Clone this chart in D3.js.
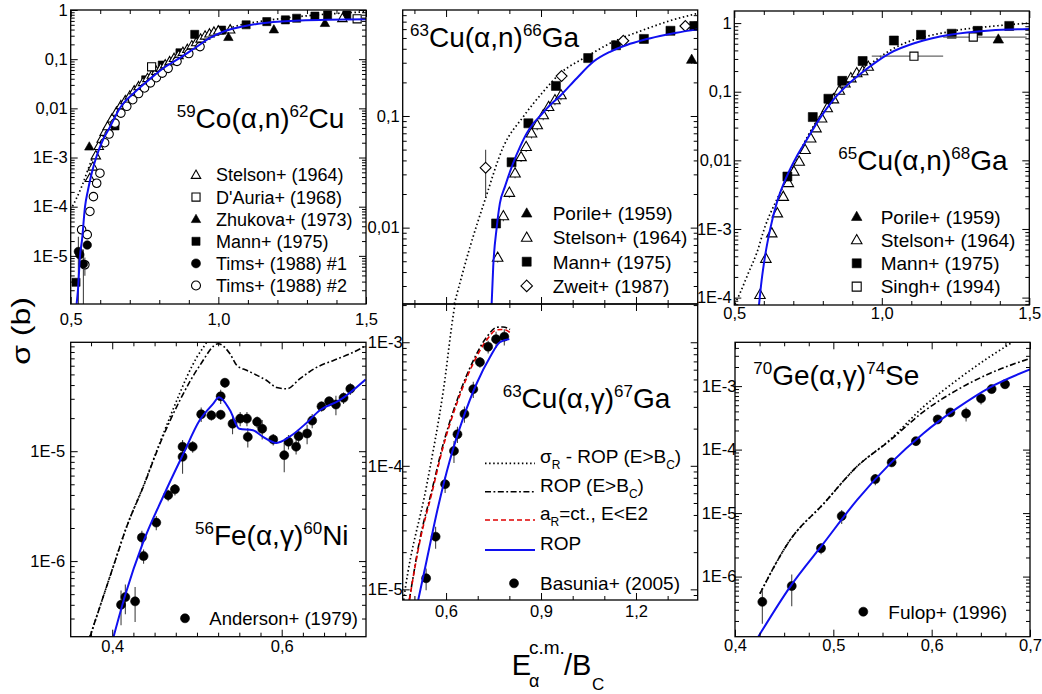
<!DOCTYPE html>
<html>
<head>
<meta charset="utf-8">
<script src="https://cdn.jsdelivr.net/npm/d3@7"></script>
<style>
  body { margin: 0; background: #fff; }
  svg { display: block; }
  text { font-family: "Liberation Sans", Arial, Helvetica, sans-serif; fill: #000; }
</style>
</head>
<body>
<svg id="chart" width="1042" height="694"></svg>
<script>
// ---------------- data: [E/Bc, sigma (b), relative error] ----------------

// 59Co(a,n)62Cu
const coRop = [[0.520,1.06e-6],[0.5247,2.04e-6],[0.5315,1.0e-5],[0.5383,2.11e-5],[0.5484,9.9e-5],[0.5586,2.19e-4],[0.5721,5.09e-4],[0.5857,9.8e-4],[0.606,2.07e-3],[0.6331,4.19e-3],[0.6669,1.02e-2],[0.7177,2.15e-2],[0.7685,3.96e-2],[0.8193,6.94e-2],[0.8701,0.106],[0.9209,0.169],[0.9717,0.27],[1.0225,0.374],[1.0902,0.473],[1.1637,0.552],[1.2766,0.612],[1.5,0.647]];
const coSigmaR = [[0.5,8.6e-5],[0.5372,2.56e-4],[0.5711,8.9e-4],[0.6219,3.12e-3],[0.6669,1.08e-2],[0.7685,4.56e-2],[0.8701,0.128],[0.9379,0.224],[1.0496,0.451],[1.1647,0.612],[1.2765,0.738],[1.5,0.923]];
const coStelson = [[0.565,3.8e-4],[0.575,6.5e-4],[0.585,1.1e-3],[0.595,1.7e-3],[0.605,2.4e-3],[0.615,3.3e-3],[0.625,4.3e-3],[0.64,6.2e-3],[0.655,8.5e-3],[0.67,1.15e-2],[0.685,1.45e-2],[0.70,1.8e-2],[0.715,2.3e-2],[0.73,2.8e-2],[0.745,3.4e-2],[0.76,4.1e-2],[0.775,4.8e-2],[0.79,5.7e-2],[0.805,6.6e-2],[0.82,7.8e-2],[0.835,9e-2],[0.85,0.105],[0.865,0.12],[0.88,0.14],[0.895,0.16],[0.91,0.19],[0.925,0.22],[0.94,0.26],[0.955,0.30],[0.97,0.33],[0.985,0.36],[1.0,0.38],[1.04,0.40],[1.42,0.68]];
const coDAuria = [[0.774,0.070],[1.47,0.66]];
const coZhukova = [[0.563,1.66e-3],[1.034,0.28,0.1],[1.188,0.40,0.1],[1.361,0.54,0.1]];
const coMann = [[0.518,2.9e-6],[0.650,4.4e-3],[0.754,0.038],[0.810,0.076],[0.870,0.135],[0.920,0.32],[1.011,0.39],[1.094,0.50],[1.164,0.58],[1.227,0.63],[1.265,0.68],[1.327,0.75],[1.370,0.79],[1.435,0.79]];
const coTims1 = [[0.526,1.23e-5,0.99],[0.531,1.05e-5],[0.543,6.8e-6,0.99],[0.556,1.66e-5]];
const coTims2 = [[0.537,3.4e-5],[0.548,6.6e-6,0.4],[0.556,2.7e-5],[0.565,8e-5],[0.577,1.6e-4],[0.588,3e-4],[0.599,4.8e-4],[0.615,2.0e-3],[0.63,3.0e-3],[0.65,5.0e-3],[0.67,8.0e-3],[0.69,1.1e-2],[0.71,1.5e-2],[0.73,2.0e-2],[0.75,2.6e-2],[0.77,3.3e-2],[0.79,4.2e-2],[0.81,5.2e-2],[0.83,6.5e-2],[0.86,0.09],[0.90,0.13],[0.938,0.18]];

// 63Cu(a,n)66Ga
const cuNRop = [[0.744,2.07e-3],[0.749,4.48e-3],[0.760,1.0e-2],[0.770,1.65e-2],[0.786,2.33e-2],[0.812,3.78e-2],[0.834,5.31e-2],[0.855,7.0e-2],[0.876,8.6e-2],[0.897,0.100],[0.928,0.125],[0.960,0.151],[1.013,0.218],[1.065,0.306],[1.118,0.376],[1.171,0.433],[1.223,0.479],[1.276,0.52],[1.328,0.557],[1.395,0.597]];
const cuNSigmaR = [[0.626,2.07e-3],[0.676,6.77e-3],[0.723,1.77e-2],[0.781,5.3e-2],[0.844,0.0986],[0.907,0.165],[0.960,0.24],[1.044,0.34],[1.118,0.448],[1.223,0.589],[1.307,0.713],[1.395,0.83]];
const cuNPorile = [[1.376,0.32,0.08]];
const cuNStelson = [[0.763,5.4e-3,0.1],[0.781,1.27e-2,0.1],[0.800,2.06e-2,0.1],[0.818,3.07e-2,0.1],[0.837,4.3e-2,0.1],[0.853,5.3e-2,0.1],[0.870,7.0e-2,0.1],[0.888,8.3e-2,0.1],[0.907,0.102,0.1],[0.924,0.121,0.1],[0.944,0.139,0.1],[0.963,0.154,0.1]];
const cuNMann = [[0.758,1.09e-2],[0.807,3.85e-2],[0.860,0.086],[0.947,0.186],[1.049,0.33],[1.137,0.43],[1.225,0.49],[1.309,0.58],[1.384,0.64]];
const cuNZweit = [[0.725,3.44e-2,0.45],[0.965,0.228],[1.160,0.472],[1.356,0.64]];

// 65Cu(a,n)68Ga
const cu65Rop = [[0.5837,7.8e-5],[0.5928,1.81e-4],[0.604,3.96e-4],[0.621,9.7e-4],[0.6437,2.38e-3],[0.6776,5.8e-3],[0.7115,1.14e-2],[0.7454,1.99e-2],[0.7905,4.12e-2],[0.8356,7.6e-2],[0.8864,0.129],[0.9373,0.197],[0.9827,0.275],[1.0278,0.365],[1.118,0.521],[1.2312,0.675],[1.3668,0.78],[1.5,0.818]];
const cu65SigmaR = [[0.5024,8.1e-5],[0.5193,1.16e-4],[0.5475,2.27e-4],[0.5759,4.44e-4],[0.6041,1.08e-3],[0.6437,2.66e-3],[0.6888,6.5e-3],[0.7454,2.11e-2],[0.8356,8.07e-2],[0.9373,0.209],[1.0278,0.399],[1.2312,0.755],[1.3668,0.892],[1.5,1.0]];
const cu65Porile = [[1.395,0.58]];
const cu65Stelson = [[0.587,1.1e-4],[0.607,3.7e-4],[0.627,8.7e-4],[0.646,1.7e-3],[0.666,2.96e-3],[0.683,4.7e-3],[0.702,6.9e-3],[0.720,9.6e-3],[0.740,1.43e-2],[0.759,2.1e-2],[0.777,2.95e-2],[0.796,4.1e-2],[0.815,5.8e-2],[0.836,7.8e-2],[0.856,0.104],[0.875,0.133],[0.895,0.158],[0.915,0.187],[0.935,0.20],[0.954,0.233]];
const cu65Mann = [[0.680,5.8e-3],[0.766,4.27e-2],[0.819,7.9e-2],[0.866,0.144],[0.935,0.28],[1.041,0.557],[1.133,0.675],[1.237,0.70],[1.325,0.77],[1.432,0.91]];
// [E, sigma, err, E low, E high]
const cu65Singh = [[1.109,0.33,0,0.966,1.208],[1.310,0.625,0,1.208,1.491]];

// 56Fe(a,g)60Ni
const feRop = [[0.4016,2.05e-7],[0.416,5.1e-7],[0.436,1.45e-6],[0.460,3.85e-6],[0.484,9.5e-6],[0.503,1.9e-5],[0.519,2.7e-5],[0.526,3.1e-5],[0.539,2.36e-5],[0.550,1.6e-5],[0.566,1.55e-5],[0.578,1.35e-5],[0.594,1.19e-5],[0.609,1.35e-5],[0.629,1.8e-5],[0.645,2.36e-5],[0.668,2.9e-5],[0.699,4.5e-5]];
const feRopAbove = [[0.3737,2.05e-7],[0.3855,3.85e-7],[0.4012,8.9e-7],[0.417,2.05e-6],[0.4366,4.73e-6],[0.4563,1.17e-5],[0.4799,2.91e-5],[0.5035,6.05e-5],[0.5251,9.5e-5],[0.539,7.7e-5],[0.547,6.05e-5],[0.5587,5.45e-5],[0.571,4.9e-5],[0.5823,4.4e-5],[0.594,3.8e-5],[0.606,3.7e-5],[0.622,4.6e-5],[0.6413,5.8e-5],[0.661,6.7e-5],[0.6806,7.7e-5],[0.699,9.1e-5]];
const feSigmaR = [[0.3737,2.05e-7],[0.3855,3.85e-7],[0.4012,8.9e-7],[0.417,2.05e-6],[0.4366,4.8e-6],[0.4563,1.2e-5],[0.4799,3.4e-5],[0.4878,4.7e-5],[0.50,7.2e-5],[0.5114,9.8e-5],[0.52,1.3e-4]];
const feAnderson = [[0.4104,4.0e-7,0.35],[0.4155,4.7e-7,0.3],[0.427,4.3e-7,0.35],[0.435,1.64e-6,0.15],[0.437,1.11e-6,0.15],[0.452,2.24e-6,0.15],[0.466,3.98e-6,0.12],[0.474,4.5e-6,0.12],[0.483,8.9e-6,0.3],[0.483,1.1e-5,0.15],[0.495,1.1e-5,0.12],[0.505,2.17e-5,0.15],[0.517,2.12e-5,0.1],[0.528,3.16e-5,0.15],[0.528,2.15e-5,0.1],[0.533,4.2e-5,0.1],[0.542,1.78e-5,0.2],[0.551,1.98e-5,0.15],[0.559,1.98e-5,0.15],[0.560,1.35e-5,0.2],[0.571,1.85e-5,0.12],[0.577,1.6e-5,0.2],[0.590,1.28e-5,0.12],[0.603,9.2e-6,0.3],[0.608,1.22e-5,0.15],[0.617,1.1e-5,0.15],[0.620,1.37e-5,0.15],[0.630,1.45e-5,0.2],[0.636,1.9e-5,0.15],[0.647,2.56e-5,0.1],[0.656,2.85e-5,0.1],[0.664,2.66e-5,0.2],[0.673,3.06e-5,0.12],[0.681,3.7e-5,0.12]];

// 63Cu(a,g)67Ga
const cuGRop = [[0.512,8.2e-6],[0.539,1.73e-5],[0.575,4.67e-5],[0.612,1.11e-4],[0.654,2.43e-4],[0.697,4.66e-4],[0.739,7.6e-4],[0.770,1.0e-3],[0.800,1.06e-3]];
const cuGConstA = [[0.484,8.2e-6],[0.518,2.5e-5],[0.555,6.0e-5],[0.591,1.43e-4],[0.634,3.2e-4],[0.686,6.76e-4],[0.728,1.04e-3],[0.760,1.26e-3],[0.780,1.27e-3],[0.802,1.2e-3]];
const cuGRopAbove = [[0.484,8.2e-6],[0.518,2.6e-5],[0.555,6.3e-5],[0.591,1.5e-4],[0.634,3.35e-4],[0.686,7.1e-4],[0.728,1.1e-3],[0.760,1.32e-3],[0.780,1.33e-3],[0.802,1.27e-3]];
const cuGSigmaR = [[0.466,8.2e-6],[0.4706,9.9e-6],[0.539,7.0e-5],[0.591,4.0e-4],[0.6285,2.04e-3],[0.64,2.8e-3]];
const cuGBasunia = [[0.537,1.23e-5,0.2],[0.567,2.67e-5,0.2],[0.597,7.1e-5,0.15],[0.625,1.32e-4,0.2],[0.636,1.8e-4,0.15],[0.658,2.63e-4,0.15],[0.686,4.17e-4,0.15],[0.707,6.9e-4,0.1],[0.733,9.2e-4,0.12],[0.758,1.06e-3,0.15],[0.784,1.11e-3,0.15]];

// 70Ge(a,g)74Se
const geRop = [[0.4237,1.13e-7],[0.456,6.9e-7],[0.490,3.33e-6],[0.524,1.6e-5],[0.558,6.07e-5],[0.5915,1.8e-4],[0.6255,4.46e-4],[0.659,9.5e-4],[0.70,1.83e-3]];
const geRopAbove = [[0.4254,5.4e-7],[0.456,3.76e-6],[0.490,1.4e-5],[0.524,5.4e-5],[0.558,1.41e-4],[0.5915,3.94e-4],[0.6255,8.65e-4],[0.659,1.58e-3],[0.70,2.73e-3]];
const geSigmaR = [[0.4254,5.4e-7],[0.456,3.76e-6],[0.490,1.4e-5],[0.524,5.4e-5],[0.558,1.45e-4],[0.5915,4.7e-4],[0.6255,1.24e-3],[0.659,2.9e-3],[0.68,4.7e-3],[0.69,6e-3]];
const geFulop = [[0.4278,4.0e-7,0.55],[0.4577,7.1e-7,0.52],[0.4875,2.8e-6,0.2],[0.5085,8.97e-6,0.25],[0.5427,3.43e-5,0.2],[0.5593,6.3e-5,0.15],[0.584,1.36e-4,0.15],[0.6061,2.99e-4,0.12],[0.619,3.85e-4,0.12],[0.635,3.7e-4,0.25],[0.6502,6.4e-4,0.2],[0.661,8.97e-4,0.15],[0.6746,1.07e-3,0.15]];

// reaction labels: [text, superscript?]
const titleCo = [["59",true],["Co(α,n)",false],["62",true],["Cu",false]];
const titleCuN = [["63",true],["Cu(α,n)",false],["66",true],["Ga",false]];
const titleCu65 = [["65",true],["Cu(α,n)",false],["68",true],["Ga",false]];
const titleFe = [["56",true],["Fe(α,γ)",false],["60",true],["Ni",false]];
const titleCuG = [["63",true],["Cu(α,γ)",false],["67",true],["Ga",false]];
const titleGe = [["70",true],["Ge(α,γ)",false],["74",true],["Se",false]];

// ---------------- drawing ----------------
const FONT = '"Liberation Sans", Arial, Helvetica, sans-serif';
const svg = d3.select('#chart');

const BLUE = '#1010f0';
const lineStyles = {
  rop:    {stroke: BLUE, width: 2, dash: null},
  sigmaR: {stroke: '#000', width: 1.7, dash: '1.5,2.6'},
  above:  {stroke: '#000', width: 1.6, dash: '6,2.5,1.8,2.5'},
  constA: {stroke: '#e00000', width: 1.6, dash: '5,3'}
};

const fmtY = v => {
  const e = Math.round(Math.log10(v));
  return e >= -2 ? v.toFixed(-e).replace('.', ',') : '1E' + e;
};
const fmtX = v => v.toFixed(1).replace('.', ',');

function makePanel(cfg) {
  const x = d3.scaleLinear().domain(cfg.xDomain).range([cfg.left, cfg.right]);
  const y = d3.scaleLog().domain(cfg.yDomain).range([cfg.bottom, cfg.top]);
  const g = svg.append('g');
  const clipId = 'clip-' + cfg.id;
  svg.append('clipPath').attr('id', clipId).append('rect')
    .attr('x', cfg.left).attr('y', cfg.top)
    .attr('width', cfg.right - cfg.left).attr('height', cfg.bottom - cfg.top);
  const plot = g.append('g').attr('clip-path', `url(#${clipId})`);

  // log ticks: decades are major, 2..9 minor
  const [lo, hi] = cfg.yDomain;
  const yMajor = [], yMinor = [];
  for (let e = Math.floor(Math.log10(lo)); e <= Math.ceil(Math.log10(hi)); e++) {
    for (let k = 1; k < 10; k++) {
      const v = k * Math.pow(10, e);
      if (v >= lo * 0.999 && v <= hi * 1.001) (k === 1 ? yMajor : yMinor).push(v);
    }
  }
  const [xlo, xhi] = cfg.xDomain;
  const xMinor = [];
  for (let v = Math.ceil(xlo / cfg.xStep - 1e-6) * cfg.xStep; v <= xhi + 1e-6; v += cfg.xStep) {
    const r = Math.round(v * 1000) / 1000;
    if (!cfg.xMajor.some(m => Math.abs(m - r) < 1e-6)) xMinor.push(r);
  }

  const axes = g.append('g');
  const put = (axis, tx, ty, labels) => {
    const a = axes.append('g').attr('transform', `translate(${tx},${ty})`).call(axis);
    a.select('.domain').remove();
    a.attr('font-family', FONT).attr('font-size', 16.5);
    a.selectAll('line').attr('stroke-width', 1);
    if (!labels) a.selectAll('text').remove();
    return a;
  };
  put(d3.axisLeft(y).tickValues(yMajor).tickSize(-7).tickPadding(cfg.yPad).tickFormat(fmtY), cfg.left, 0, true);
  put(d3.axisLeft(y).tickValues(yMinor).tickSize(-4), cfg.left, 0, false);
  put(d3.axisRight(y).tickValues(yMajor).tickSize(-7), cfg.right, 0, false);
  put(d3.axisRight(y).tickValues(yMinor).tickSize(-4), cfg.right, 0, false);
  put(d3.axisBottom(x).tickValues(cfg.xMajor).tickSize(-7).tickPadding(cfg.xPad).tickFormat(fmtX), 0, cfg.bottom, cfg.xLabels);
  put(d3.axisBottom(x).tickValues(xMinor).tickSize(-4), 0, cfg.bottom, false);
  put(d3.axisTop(x).tickValues(cfg.xMajor).tickSize(-7), 0, cfg.top, false);
  put(d3.axisTop(x).tickValues(xMinor).tickSize(-4), 0, cfg.top, false);

  g.append('rect').attr('x', cfg.left).attr('y', cfg.top)
    .attr('width', cfg.right - cfg.left).attr('height', cfg.bottom - cfg.top)
    .attr('fill', 'none').attr('stroke', '#000').attr('stroke-width', 1.3);

  return {cfg, x, y, g, plot};
}

function drawCurve(p, data, style) {
  const s = lineStyles[style];
  p.plot.append('path').datum(data)
    .attr('d', d3.line().x(d => p.x(d[0])).y(d => p.y(d[1])).curve(d3.curveMonotoneX))
    .attr('fill', 'none').attr('stroke', s.stroke).attr('stroke-width', s.width)
    .attr('stroke-dasharray', s.dash);
}

function markerPath(shape, s) {
  const h = s / 2;
  switch (shape) {
    case 'tri': return `M0,${-h * 1.1}L${h * 1.05},${h * 0.75}L${-h * 1.05},${h * 0.75}Z`;
    case 'sq':  return `M${-h * 0.9},${-h * 0.9}H${h * 0.9}V${h * 0.9}H${-h * 0.9}Z`;
    case 'dia': return `M0,${-h * 1.15}L${h * 1.15},0L0,${h * 1.15}L${-h * 1.15},0Z`;
    default:    return `M${h},0A${h},${h} 0 1 1 ${-h},0A${h},${h} 0 1 1 ${h},0Z`;
  }
}

function styleMarker(sel, filled) {
  sel.attr('fill', filled ? '#000' : '#fff')
     .attr('stroke', '#000').attr('stroke-width', filled ? 0.6 : 1.1);
}

function drawPoints(p, data, shape, filled, size) {
  const bars = p.plot.append('g').attr('stroke', '#444').attr('stroke-width', 1.1);
  data.forEach(d => {
    if (d[2]) {
      bars.append('line').attr('x1', p.x(d[0])).attr('x2', p.x(d[0]))
        .attr('y1', p.y(d[1] * (1 - d[2]))).attr('y2', p.y(d[1] * (1 + d[2])));
    }
    if (d.length > 3) {
      bars.append('line').attr('x1', p.x(d[3])).attr('x2', p.x(d[4]))
        .attr('y1', p.y(d[1])).attr('y2', p.y(d[1])).attr('stroke', '#666');
    }
  });
  p.plot.append('g').selectAll('path').data(data).join('path')
    .attr('transform', d => `translate(${p.x(d[0])},${p.y(d[1])})`)
    .attr('d', markerPath(shape, size))
    .call(styleMarker, filled);
}

function reactionLabel(x0, y0, pieces) {
  const t = svg.append('text').attr('x', x0).attr('y', y0).attr('font-size', 28);
  let shift = 0;
  pieces.forEach(([s, sup]) => {
    const target = sup ? -11 : 0;
    t.append('tspan').attr('dy', target - shift).attr('font-size', sup ? 17 : 28).text(s);
    shift = target;
  });
}

function markerLegend(entries, mx, tx, y0, dy, fontSize, size) {
  entries.forEach(([label, shape, filled], i) => {
    const yy = y0 + i * dy;
    svg.append('path').attr('transform', `translate(${mx},${yy})`)
      .attr('d', markerPath(shape, size)).call(styleMarker, filled);
    svg.append('text').attr('x', tx).attr('y', yy).attr('dy', '0.36em')
      .attr('font-size', fontSize).text(label);
  });
}

// rich text with subscripts: [text, sub?]
function richText(x0, y0, pieces, fontSize) {
  const t = svg.append('text').attr('x', x0).attr('y', y0).attr('dy', '0.36em').attr('font-size', fontSize);
  let shift = 0;
  pieces.forEach(([s, sub]) => {
    const target = sub ? 6 : 0;
    t.append('tspan').attr('dy', target - shift).attr('font-size', sub ? 12 : fontSize).text(s);
    shift = target;
  });
  return t;
}

// ---------------- panels ----------------
const pCo = makePanel({id: 'co', left: 70.7, right: 366, top: 10, bottom: 304,
  xDomain: [0.5, 1.5], yDomain: [1.05e-6, 1], xMajor: [0.5, 1.0, 1.5], xStep: 0.1,
  xLabels: true, xPad: 9, yPad: 3});
const pCuN = makePanel({id: 'cun', left: 402.7, right: 697.7, top: 10, bottom: 304,
  xDomain: [0.463, 1.395], yDomain: [2.07e-3, 0.89], xMajor: [0.6, 0.9, 1.2], xStep: 0.1,
  xLabels: false, xPad: 5, yPad: 3});
const pCu65 = makePanel({id: 'cu65', left: 734.3, right: 1029.3, top: 11, bottom: 305,
  xDomain: [0.5, 1.5], yDomain: [7.8e-5, 1.5], xMajor: [0.5, 1.0, 1.5], xStep: 0.1,
  xLabels: true, xPad: 2, yPad: 2.5});
const pFe = makePanel({id: 'fe', left: 70.7, right: 366, top: 342.3, bottom: 636.7,
  xDomain: [0.351, 0.6995], yDomain: [2.05e-7, 9.8e-5], xMajor: [0.4, 0.6], xStep: 0.025,
  xLabels: true, xPad: 4, yPad: 5.5});
const pCuG = makePanel({id: 'cug', left: 402.7, right: 697.7, top: 304, bottom: 600,
  xDomain: [0.463, 1.395], yDomain: [8.2e-6, 2.04e-3], xMajor: [0.6, 0.9, 1.2], xStep: 0.1,
  xLabels: true, xPad: 5, yPad: 0});
const pGe = makePanel({id: 'ge', left: 735, right: 1030, top: 342.3, bottom: 636.7,
  xDomain: [0.4, 0.7], yDomain: [1.13e-7, 4.9e-3], xMajor: [0.4, 0.5, 0.6, 0.7], xStep: 0.025,
  xLabels: true, xPad: 3, yPad: -1.5});

// 59Co(a,n)
drawCurve(pCo, coSigmaR, 'sigmaR');
drawPoints(pCo, coMann, 'sq', true, 9);
drawPoints(pCo, coStelson, 'tri', false, 9);
drawPoints(pCo, coDAuria, 'sq', false, 9);
drawPoints(pCo, coTims2, 'circ', false, 8.5);
drawPoints(pCo, coTims1, 'circ', true, 8.5);
drawPoints(pCo, coZhukova, 'tri', true, 9);
drawCurve(pCo, coRop, 'rop');
reactionLabel(176.7, 128.3, titleCo);
markerLegend([["Stelson+ (1964)", 'tri', false], ["D'Auria+ (1968)", 'sq', false],
  ["Zhukova+ (1973)", 'tri', true], ["Mann+ (1975)", 'sq', true],
  ["Tims+ (1988) #1", 'circ', true], ["Tims+ (1988) #2", 'circ', false]],
  196, 216, 175, 22.1, 18, 9);

// 63Cu(a,n)
drawCurve(pCuN, cuNSigmaR, 'sigmaR');
drawPoints(pCuN, cuNStelson, 'tri', false, 10);
drawPoints(pCuN, cuNMann, 'sq', true, 10);
drawPoints(pCuN, cuNZweit, 'dia', false, 9.5);
drawPoints(pCuN, cuNPorile, 'tri', true, 10);
drawCurve(pCuN, cuNRop, 'rop');
reactionLabel(410, 46.7, titleCuN);
markerLegend([["Porile+ (1959)", 'tri', true], ["Stelson+ (1964)", 'tri', false],
  ["Mann+ (1975)", 'sq', true], ["Zweit+ (1987)", 'dia', false]],
  526.7, 552.7, 213.3, 24.2, 19, 10);

// 65Cu(a,n)
drawCurve(pCu65, cu65SigmaR, 'sigmaR');
drawPoints(pCu65, cu65Stelson, 'tri', false, 10);
drawPoints(pCu65, cu65Mann, 'sq', true, 10);
drawPoints(pCu65, cu65Singh, 'sq', false, 9);
drawPoints(pCu65, cu65Porile, 'tri', true, 10);
drawCurve(pCu65, cu65Rop, 'rop');
reactionLabel(838.3, 170, titleCu65);
markerLegend([["Porile+ (1959)", 'tri', true], ["Stelson+ (1964)", 'tri', false],
  ["Mann+ (1975)", 'sq', true], ["Singh+ (1994)", 'sq', false]],
  856.7, 880.7, 216.7, 23.3, 19, 10);

// 56Fe(a,g)
drawCurve(pFe, feSigmaR, 'sigmaR');
drawCurve(pFe, feRopAbove, 'above');
drawPoints(pFe, feAnderson, 'circ', true, 9);
drawCurve(pFe, feRop, 'rop');
reactionLabel(195, 545, titleFe);
markerLegend([["Anderson+ (1979)", 'circ', true]], 185, 209.3, 618.3, 0, 18.5, 9);

// 63Cu(a,g)
drawCurve(pCuG, cuGSigmaR, 'sigmaR');
drawCurve(pCuG, cuGRopAbove, 'above');
drawCurve(pCuG, cuGConstA, 'constA');
drawPoints(pCuG, cuGBasunia, 'circ', true, 9);
drawCurve(pCuG, cuGRop, 'rop');
reactionLabel(502.7, 408.3, titleCuG);
const lineLegend = [
  [[["σ", false], ["R", true], [" - ROP (E>B", false], ["C", true], [")", false]], 'sigmaR'],
  [[["ROP (E>B", false], ["C", true], [")", false]], 'above'],
  [[["a", false], ["R", true], ["=ct., E<E2", false]], 'constA'],
  [[["ROP", false]], 'rop']
];
const legendRows = [463.3, 491.7, 520, 550];
lineLegend.forEach(([pieces, style], i) => {
  const s = lineStyles[style];
  svg.append('line').attr('x1', 485).attr('x2', 535).attr('y1', legendRows[i]).attr('y2', legendRows[i])
    .attr('stroke', s.stroke).attr('stroke-width', s.width).attr('stroke-dasharray', s.dash);
  richText(540, legendRows[i], pieces, 19);
});
markerLegend([["Basunia+ (2005)", 'circ', true]], 514, 540, 583.3, 0, 19, 9);

// 70Ge(a,g)
drawCurve(pGe, geSigmaR, 'sigmaR');
drawCurve(pGe, geRopAbove, 'above');
drawPoints(pGe, geFulop, 'circ', true, 9);
drawCurve(pGe, geRop, 'rop');
reactionLabel(753.3, 385, titleGe);
markerLegend([["Fulop+ (1996)", 'circ', true]], 863.3, 888.3, 611.7, 0, 19, 9);

// ---------------- shared axis titles ----------------
svg.append('text')
  .attr('transform', 'translate(30,331) rotate(-90) scale(1,0.78)')
  .attr('text-anchor', 'middle').attr('font-size', 32)
  .text('σ (b)');

const xt = svg.append('g');
xt.append('text').attr('x', 511.7).attr('y', 675).attr('font-size', 29).text('E');
xt.append('text').attr('x', 529).attr('y', 654).attr('font-size', 19).text('c.m.');
xt.append('text').attr('x', 529).attr('y', 687).attr('font-size', 18).text('α');
xt.append('text').attr('x', 564).attr('y', 675).attr('font-size', 29).text('/B');
xt.append('text').attr('x', 592).attr('y', 690).attr('font-size', 17).text('C');
</script>
</body>
</html>
